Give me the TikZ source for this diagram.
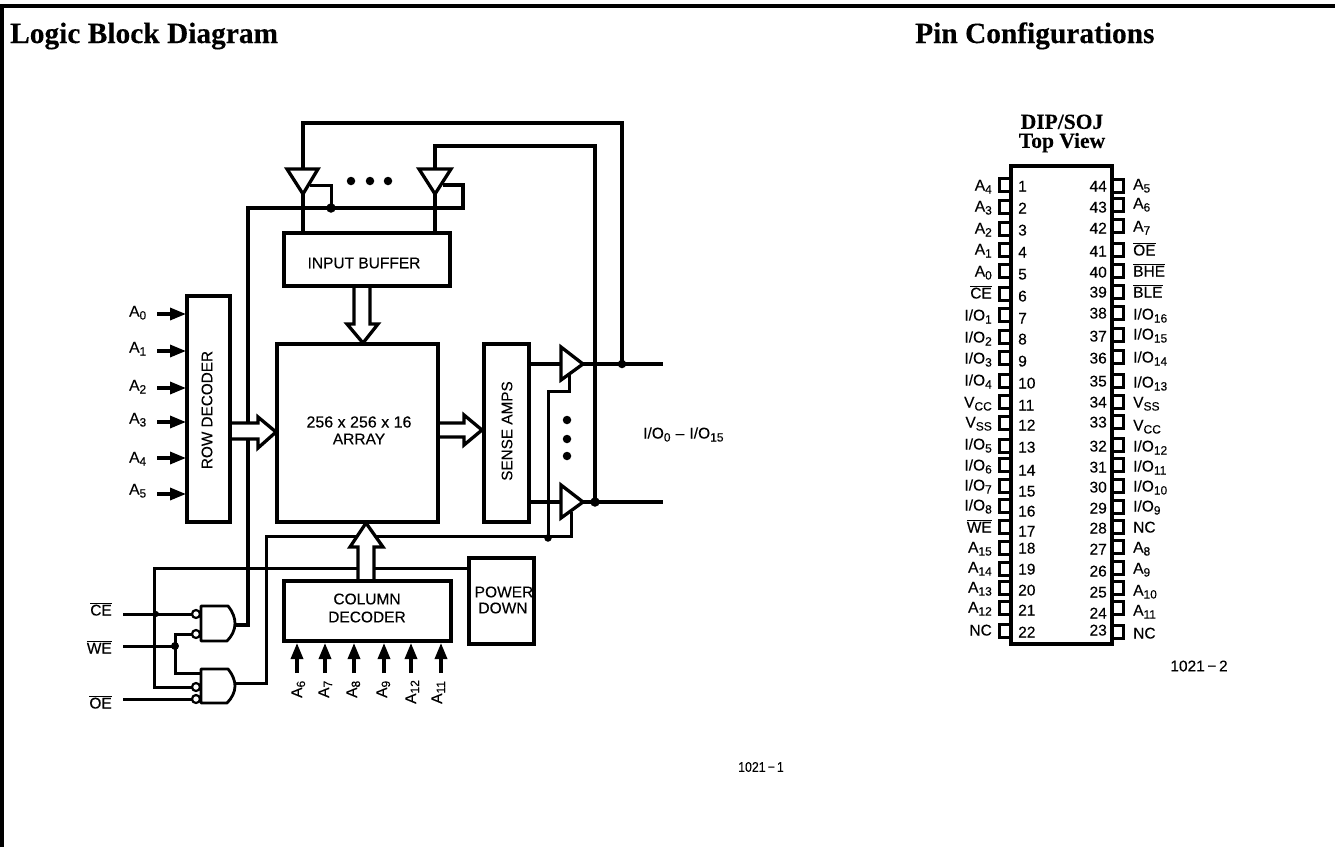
\documentclass[tikz,border=0pt]{standalone}
\usepackage{fontspec}
\setmainfont{Liberation Sans}[FakeBold=0.2]
\newfontfamily\titlefont{Liberation Serif}[BoldFont={Liberation Serif Bold},BoldFeatures={FakeBold=0.2}]
\usetikzlibrary{arrows.meta}
\newcommand\Sb[1]{\raisebox{-3pt}{\fontsize{12}{12}\selectfont #1}}
\newcommand\IOx[1]{I/O\Sb{#1}}
\newcommand\Bar[1]{$\overline{\mbox{#1}}$}
\tikzset{
  x=1pt,y=-1pt,
  wire/.style={line width=3.3pt,line join=miter},
  thinwire/.style={line width=3pt,line join=miter},
  blockbox/.style={draw,line width=3.7pt,fill=white,inner sep=0pt,outer sep=0pt,align=center,font=\fontsize{15.5}{17}\selectfont},
  vlabel/.style={inner sep=0pt,rotate=90,font=\fontsize{15.3}{17}\selectfont},
  lab/.style={inner sep=0pt,font=\fontsize{15.5}{17}\selectfont},
  hollow/.style={draw,line width=3.3pt,fill=white,line join=miter},
  buf/.style={draw,line width=3.3pt,fill=white,line join=miter},
  gatebody/.style={draw,line width=2.8pt,fill=white,line join=round},
  bubble/.style={circle,draw,line width=2.2pt,fill=white,inner sep=0pt,minimum size=8pt},
  dot/.style={circle,fill=black,inner sep=0pt,minimum size=#1},
  dot/.default=8.5pt,
  inarrow/.style={line width=3.3pt,-{Triangle[length=16pt,width=12pt]}},
  title/.style={inner sep=0pt,anchor=base west,font=\titlefont\bfseries\fontsize{29.4}{31}\selectfont},
  pinbody/.style={draw,line width=3.7pt},
  pinbox/.style={line width=2.5pt},
}
\begin{document}
\begin{tikzpicture}
\useasboundingbox (0,0) rectangle (1335,847);
\fill[white] (0,0) rectangle (1335,847);
% frame
\draw[line width=3.7pt] (1.7,847) -- (1.7,5.7) -- (1335,5.7);
\node[title] (t1) at (10,43) {Logic Block Diagram};
\node[title] (t2) at (915,43) {Pin Configurations};

% --- junction coordinates
\coordinate (tb1) at (303,169); \coordinate (tb2) at (435,169);
\coordinate (ta1) at (303,194); \coordinate (ta2) at (435,194);
\coordinate (bufin) at (303,233); \coordinate (bufinb) at (435,233);
\node[dot=9.5pt] (j1) at (331,208) {};
\node[dot] (j2) at (622,364) {};
\node[dot=9.5pt] (j3) at (595,502) {};
\node[dot=7.5pt] (j4) at (548,538) {};
\node[dot=8pt] (j5) at (175,646) {};
\node[dot=6pt] (j6) at (156,614) {};
\coordinate (oa1) at (583,364); \coordinate (oa2) at (583,502);
\coordinate (ob1) at (561,364); \coordinate (ob2) at (561,502);
\coordinate (out1) at (663,364); \coordinate (out2) at (663,502);
\coordinate (ce) at (123,614); \coordinate (we) at (123,646); \coordinate (oe) at (123,699);
\coordinate (g1o) at (235,625); \coordinate (g2o) at (235,683);

% --- wires
\draw[wire] (j2.center) -- (622,123) -- (303,123) -- (tb1);
\draw[wire] (j3.center) -- (595,146) -- (435,146) -- (tb2);
\draw[wire] (ta1) -- (bufin);
\draw[wire] (ta2) -- (bufinb);
\draw[wire] (g1o) -- (248,625) -- (248,208) -- (463,208) -- (463,185) -- (443,185);
\draw[thinwire] (j1.center) -- (331,185) -- (310,185);
\draw[wire] (529,364) -- (ob1);
\draw[wire] (529,502) -- (ob2);
\draw[wire] (oa1) -- (out1);
\draw[wire] (oa2) -- (out2);
\draw[thinwire] (569,375) -- (569,391) -- (548,391) -- (j4.center);
\draw[thinwire] (571,512) -- (571,536) -- (266,536) -- (266,683) -- (g2o);
\draw[thinwire] (469,568) -- (154.5,568) -- (154.5,687) -- (193,687);
\draw[thinwire] (ce) -- (193,614);
\draw[thinwire] (we) -- (j5.center);
\draw[thinwire] (193,634) -- (175,634) -- (175,673) -- (201,673);
\draw[thinwire] (oe) -- (193,699);

% --- tristate buffers
\path[buf] (287,169) -- (318,169) -- (ta1) -- cycle;
\path[buf] (419,169) -- (451,169) -- (ta2) -- cycle;
\path[buf] (561,347) -- (oa1) -- (561,380) -- cycle;
\path[buf] (561,485) -- (oa2) -- (561,518) -- cycle;

% --- ellipsis dots
\node[dot] (e1) at (351,181) {};
\node[dot] (e2) at (370,181) {};
\node[dot] (e3) at (388,181) {};
\node[dot] (e4) at (567,420) {};
\node[dot] (e5) at (567,439) {};
\node[dot] (e6) at (567,456) {};

% --- hollow bus arrows
\path[hollow] (354,286) -- (354,324) -- (347,324) -- (363,343) -- (378,324) -- (370,324) -- (370,286);
\path[hollow] (230,423) -- (258,423) -- (258,417) -- (276,432) -- (258,448) -- (258,439) -- (230,439);
\path[hollow] (438,423) -- (464,423) -- (464,415) -- (482,430) -- (464,445) -- (464,437) -- (438,437);
\path[hollow] (358,581) -- (358,547) -- (350,547) -- (366,523) -- (383,547) -- (374,547) -- (374,581);

% --- blocks
\node[blockbox,minimum width=166pt,minimum height=53pt] (ib) at (367,259.5) {};
\node[lab] (ibt) at (364,263) {INPUT BUFFER};
\node[blockbox,minimum width=43pt,minimum height=226pt] (rd) at (208.5,409) {};
\node[vlabel] (rdt) at (207,410) {ROW DECODER};
\node[blockbox,minimum width=161pt,minimum height=178pt] (arr) at (357.5,433) {};
\node[lab] (arrt1) at (359,422) {\fontsize{16}{17}\selectfont 256 x 256 x 16};
\node[lab] (arrt2) at (359,439) {ARRAY};
\node[blockbox,minimum width=45pt,minimum height=178pt] (sa) at (506.5,433) {};
\node[vlabel] (sat) at (507,431) {SENSE AMPS};
\node[blockbox,minimum width=167pt,minimum height=60pt] (cd) at (367.5,611) {};
\node[lab] (cdt1) at (367,599) {COLUMN};
\node[lab] (cdt2) at (367,617) {DECODER};
\node[blockbox,minimum width=65pt,minimum height=86pt] (pd) at (501.5,601) {};
\node[lab] (pdt1) at (504,592) {POWER};
\node[lab] (pdt2) at (503,608) {DOWN};

% --- logic gates
\path[gatebody] (201,606) -- (228,606) .. controls (233,612) and (235,618) .. (235,623.5) .. controls (235,630) and (232,636) .. (227,641) -- (201,641) -- cycle;
\path[gatebody] (201,669) -- (228,669) .. controls (233,675) and (235,681) .. (235,686) .. controls (235,692) and (232,698) .. (227,703) -- (201,703) -- cycle;
\node[bubble] (b1) at (196,614) {};
\node[bubble] (b2) at (196,634) {};
\node[bubble] (b3) at (196,687) {};
\node[bubble] (b4) at (196,699) {};
\node[lab,anchor=base east] (lce) at (112,615.5) {\Bar{CE}};
\node[lab,anchor=base east] (lwe) at (112,653.5) {\Bar{WE}};
\node[lab,anchor=base east] (loe) at (112,708.5) {\Bar{OE}};

% --- row address inputs
\foreach \n/\ay/\ly in {0/314/311,1/351/347,2/388/385,3/422/418,4/458/457,5/494/489}{
  \coordinate (rs\n) at (157,\ay);
  \coordinate (re\n) at (186,\ay);
  \draw[inarrow] (rs\n) -- (re\n);
  \node[lab,anchor=base west] (ra\n) at (129,\ly+5.5) {A\Sb{\n}};
}
% --- column address inputs
\foreach \k/\ax/\bx/\by/\num in {a/297/302/698/6,b/325/329/698/7,c/354/357/698/8,d/384/387/698/9,e/411/416/704/12,f/441/442/704/11}{
  \coordinate (cs\k) at (\ax,673);
  \coordinate (ce\k) at (\ax,643);
  \draw[inarrow] (cs\k) -- (ce\k);
  \node[lab,anchor=base west,rotate=90] (ca\k) at (\bx,\by) {A\Sb{\num}};
}
\node[lab,anchor=base west] (iol) at (643,438.5) {\IOx{0}\,\,--\,\,\IOx{15}};
\node[lab,anchor=center,xscale=0.88,font=\fontsize{14}{15}\selectfont] (r1) at (761,767) {1021\,−\,1};

% --- pin diagram
\node[inner sep=0pt,align=center,font=\titlefont\bfseries\fontsize{21.5}{19}\selectfont] (dip) at (1062,133.5) {DIP/SOJ\\Top View};
\node[pinbody,minimum width=101pt,minimum height=478pt,inner sep=0pt,outer sep=0pt] (chip) at (1061.5,405) {};
\foreach \n/\txt/\py/\ly/\ny in {
 1/{A\Sb{4}}/185/185/186, 2/{A\Sb{3}}/207/206/208, 3/{A\Sb{2}}/229/228/230, 4/{A\Sb{1}}/250/249/252,
 5/{A\Sb{0}}/271/271/274, 6/{\Bar{CE}}/294/293/296, 7/{\IOx{1}}/315/315/318, 8/{\IOx{2}}/337/337/339,
 9/{\IOx{3}}/358/358/361, 10/{\IOx{4}}/381/380/383, 11/{V\Sb{CC}}/402/402/405, 12/{V\Sb{SS}}/423/422/425,
 13/{\IOx{5}}/446/444/447, 14/{\IOx{6}}/465/465/470, 15/{\IOx{7}}/486/485/491, 16/{\IOx{8}}/506/505/511,
 17/{\Bar{WE}}/527/527/531, 18/{A\Sb{15}}/548/547/548, 19/{A\Sb{14}}/569/567/569, 20/{A\Sb{13}}/588/587/590,
 21/{A\Sb{12}}/608/607/610, 22/{NC}/631/630/632}{
  \draw[pinbox] (1011,\py-6.5) -- (999.5,\py-6.5) -- (999.5,\py+6.5) -- (1011,\py+6.5);
  \node[lab,anchor=base east] (pl\n) at (992,\ly+5.5) {\txt};
  \node[lab,anchor=base west] (pn\n) at (1018,\ny+5.5) {\n};
}
\foreach \n/\txt/\py/\ly/\ny in {
 44/{A\Sb{5}}/186/184/186, 43/{A\Sb{6}}/205/203/207, 42/{A\Sb{7}}/226/226/228, 41/{\Bar{OE}}/250/250/251,
 40/{\Bar{BHE}}/271/271/272, 39/{\Bar{BLE}}/292/292/292, 38/{\IOx{16}}/313/314/313, 37/{\IOx{15}}/335/334/336,
 36/{\IOx{14}}/357/357/358, 35/{\IOx{13}}/381/382/381, 34/{V\Sb{SS}}/402/402/402, 33/{V\Sb{CC}}/422/425/422,
 32/{\IOx{12}}/445/446/446, 31/{\IOx{11}}/465/466/467, 30/{\IOx{10}}/486/486/487, 29/{\IOx{9}}/507/506/508,
 28/{NC}/527/527/528, 27/{A\Sb{8}}/547/547/549, 26/{A\Sb{9}}/568/568/571, 25/{A\Sb{10}}/588/590/592,
 24/{A\Sb{11}}/608/610/613, 23/{NC}/632/633/630}{
  \draw[pinbox] (1112,\py-6.5) -- (1123.5,\py-6.5) -- (1123.5,\py+6.5) -- (1112,\py+6.5);
  \node[lab,anchor=base west] (pl\n) at (1133,\ly+5.5) {\txt};
  \node[lab,anchor=base east] (pn\n) at (1107,\ny+5.5) {\n};
}
\node[lab,anchor=center] (r2) at (1199,666) {1021\,−\,2};
\end{tikzpicture}
\end{document}
